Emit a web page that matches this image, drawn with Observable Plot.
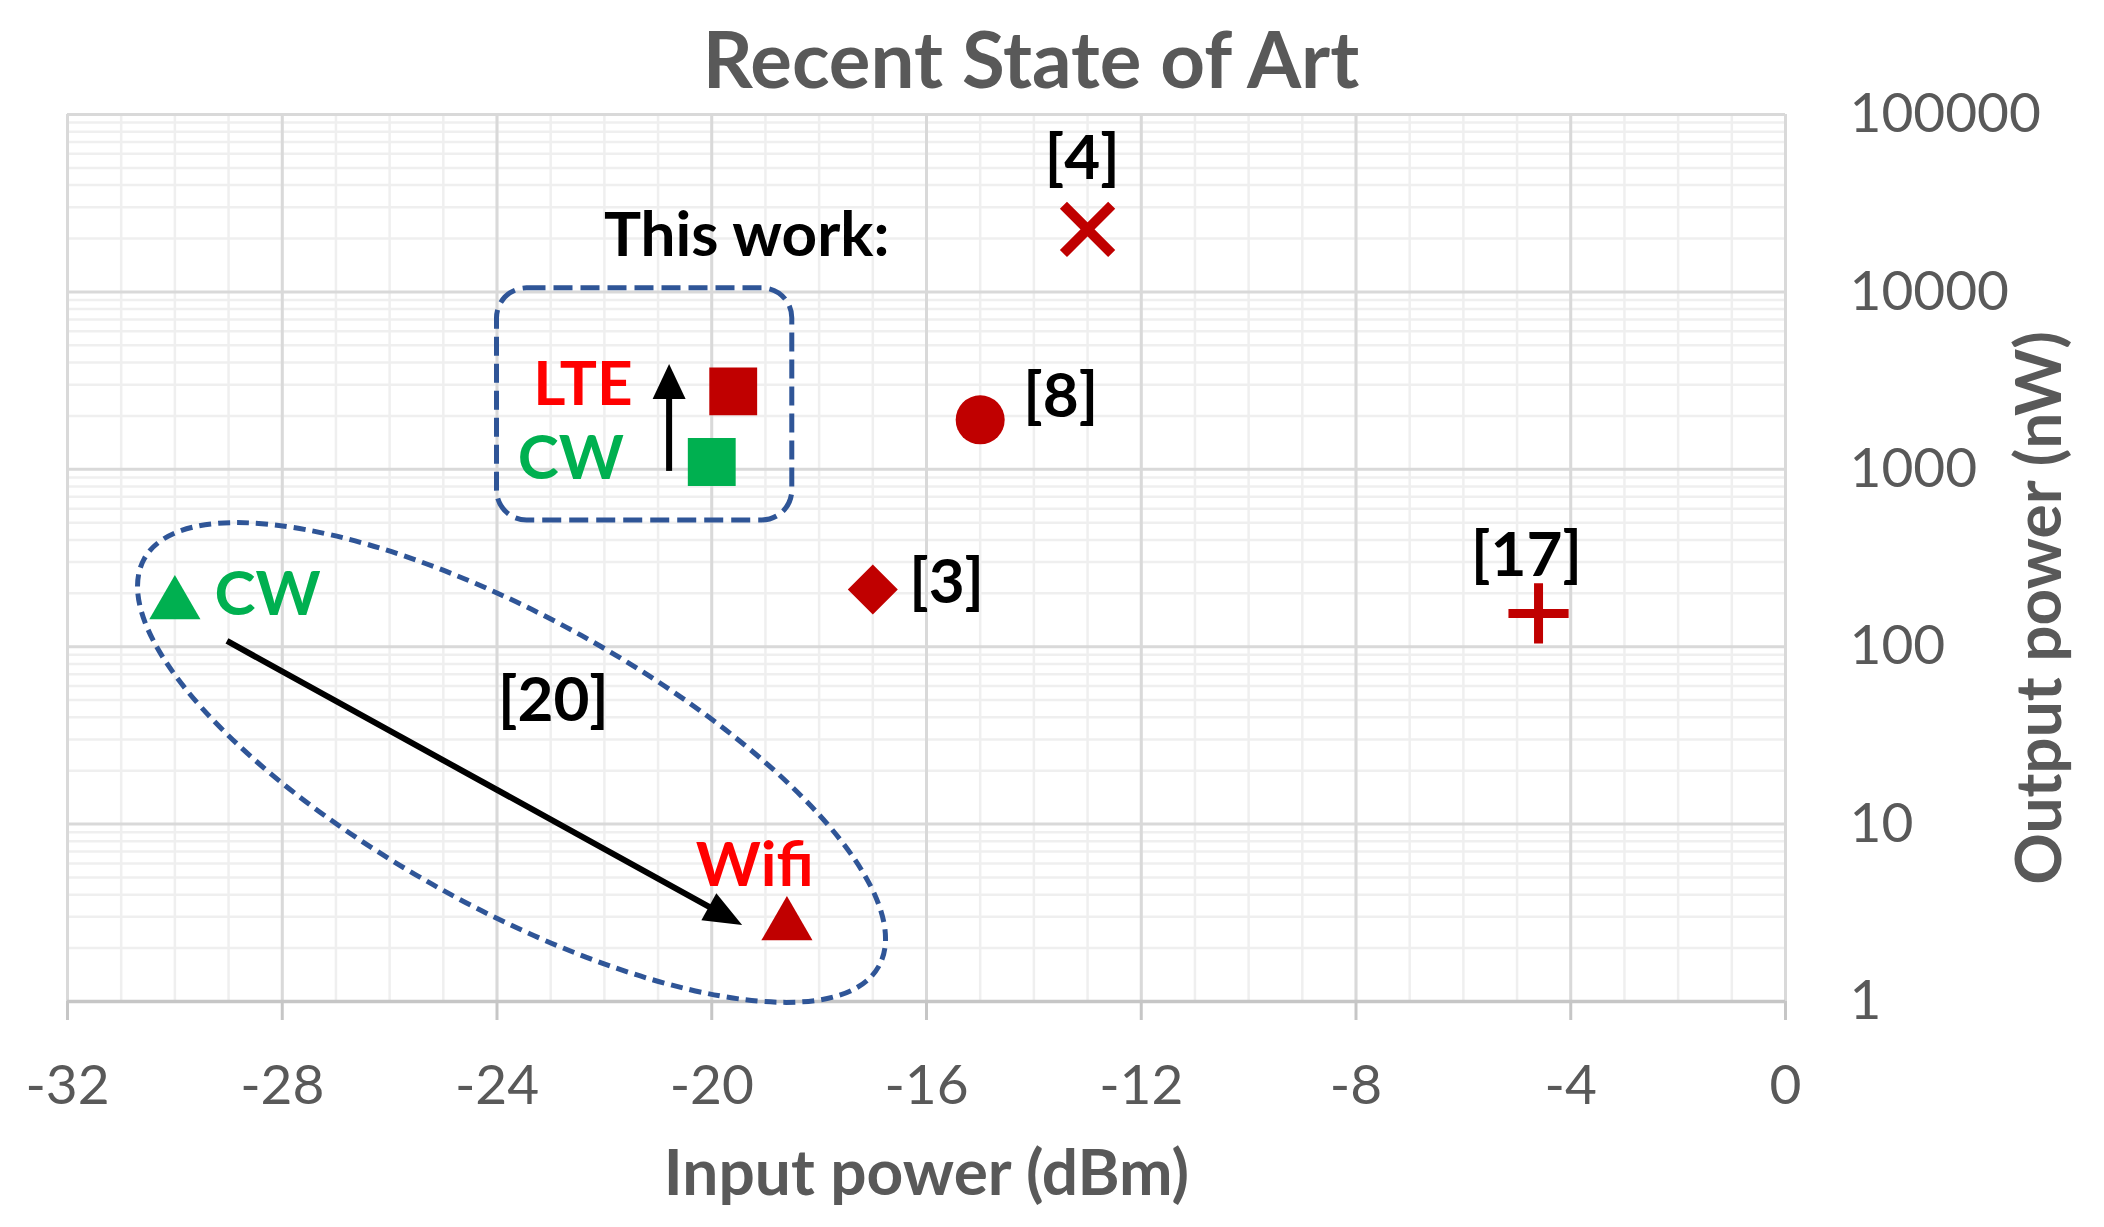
<!DOCTYPE html>
<html>
<head>
<meta charset="utf-8">
<script src="https://cdn.jsdelivr.net/npm/d3@7"></script>
<script src="https://cdn.jsdelivr.net/npm/@observablehq/plot@0.6"></script>
<style>
  body { margin: 0; background: #fff; }
  #title {
    font-family: Lato, sans-serif; font-weight: 700; font-size: 78px; color: #595959;
    height: 110px; box-sizing: border-box; padding-top: 6px; line-height: 104px;
    text-align: center; width: 2062px; white-space: nowrap;
  }
  #chart svg { display: block; }
</style>
</head>
<body>
<div id="title">Recent State of Art</div>
<div id="chart"></div>
<script>
// ---------- data ----------
const xTicks = [-32, -28, -24, -20, -16, -12, -8, -4, 0];
const yTicks = [1, 10, 100, 1000, 10000, 100000];

const refs        = ["[4]", "[8]", "[3]", "[17]", "This work", "This work", "[20]", "[20]"];
const signals     = ["",    "",    "",    "",     "LTE",       "CW",        "CW",   "Wifi"];
const inputPower  = [-13,   -15,   -17,   -4.6,   -19.6,       -20,         -30,    -18.6];   // dBm
const outputPower = [22500, 1900,  210,   154,    2750,        1100,        173,    2.68];    // nW

// annotation texts (anchored in data coordinates)
const labelText = ["[4]", "This work:", "LTE", "CW", "[8]", "[3]", "[17]", "CW", "[20]", "Wifi"];
const labelX    = [-13.1, -19.35, -22.4, -22.625, -13.5, -15.625, -4.825, -28.275, -22.95, -19.2];
const labelY    = [56300, 20500, 2966, 1137, 2535, 229, 325, 196, 49.5, 5.8];
const labelKind = ["ref", "ref", "LTE", "CW", "ref", "ref", "ref", "CW", "ref", "Wifi"];

// arrows: CW -> LTE (this work), CW -> Wifi ([20])
const arrowX1 = [-20.785, -29.02];
const arrowY1 = [973, 107];
const arrowX2 = [-20.785, -19.425];
const arrowY2 = [3900, 2.68];

// "this work" box and "[20]" ellipse
const boxX = [-24, -18.5];
const boxY = [515, 10470];
const ellipseCenter = [-23.72, 22.1];

// ---------- styles ----------
const RED = "#C00000", GREEN = "#00B050", BRIGHT_RED = "#FF0000", BLUE = "#2F5597", GRAY = "#595959";
const markerStyle = {
  "[4]":          {symbol: "times",    r: 22,   fill: "none", stroke: RED, strokeWidth: 10},
  "[8]":          {symbol: "circle",   r: 24.5, fill: RED},
  "[3]":          {symbol: "diamond2", r: 22.5, fill: RED},
  "[17]":         {symbol: "plus",     r: 19.4, fill: "none", stroke: RED, strokeWidth: 9},
  "This workLTE": {symbol: "square",   r: 27,   fill: RED},
  "This workCW":  {symbol: "square",   r: 27,   fill: GREEN},
  "[20]CW":       {symbol: "triangle", r: 19,   fill: GREEN},
  "[20]Wifi":     {symbol: "triangle", r: 19,   fill: RED}
};
const labelColor = {ref: "#000000", LTE: BRIGHT_RED, CW: GREEN, Wifi: BRIGHT_RED};

// ---------- tables ----------
const points = refs.map((ref, i) => ({ref, signal: signals[i], x: inputPower[i], y: outputPower[i]}));
const labels = labelText.map((text, i) => ({text, x: labelX[i], y: labelY[i], kind: labelKind[i]}));
const xMinor = d3.range(-32, 1, 1);
const yMinor = [1, 10, 100, 1000, 10000].flatMap(d => [2, 3, 4, 5, 6, 7, 8, 9].map(k => k * d));

const dotMarks = points.map(p => {
  const s = markerStyle[p.ref + p.signal];
  return Plot.dot([p], {x: "x", y: "y", ...s});
});
const textMarks = Object.keys(labelColor).map(kind =>
  Plot.text(labels.filter(d => d.kind === kind), {
    x: "x", y: "y", text: "text", fill: labelColor[kind], fontSize: 62, fontWeight: 700
  })
);

const plot = Plot.plot({
  width: 2104,
  height: 1117,
  marginLeft: 67,
  marginRight: 319,
  marginTop: 4,
  marginBottom: 226,
  style: {fontFamily: "Lato, sans-serif", background: "#fff", overflow: "visible"},
  x: {domain: [-32, 0]},
  y: {type: "log", domain: [1, 100000]},
  marks: [
    Plot.ruleX(xMinor, {stroke: "#EFEFEF", strokeWidth: 2.5}),
    Plot.ruleY(yMinor, {stroke: "#EFEFEF", strokeWidth: 2.5}),
    Plot.ruleX(xTicks, {stroke: "#D9D9D9", strokeWidth: 3}),
    Plot.ruleY(yTicks, {stroke: "#D9D9D9", strokeWidth: 3}),
    Plot.ruleY([1], {stroke: "#C6C6C6", strokeWidth: 3.5}),
    Plot.axisX({ticks: xTicks, tickFormat: d => String(d), tickSize: 19, tickPadding: 44,
      fontSize: 55, color: GRAY, stroke: "#C6C6C6", strokeWidth: 3, label: null}),
    Plot.axisY({anchor: "right", ticks: yTicks, tickFormat: d => String(d), tickSize: 0, tickPadding: 64,
      fontSize: 55, color: GRAY, label: null}),
    Plot.text(["Input power (dBm)"], {frameAnchor: "bottom", dy: 173, text: d => d,
      textAnchor: "middle", lineAnchor: "middle",
      fontSize: 64, fontWeight: 700, fill: GRAY}),
    Plot.text(["Output power (nW)"], {frameAnchor: "right", dx: 255, dy: 50, rotate: -90, text: d => d,
      textAnchor: "middle", lineAnchor: "middle",
      fontSize: 64, fontWeight: 700, fill: GRAY}),
    Plot.rect([{x1: boxX[0], x2: boxX[1], y1: boxY[0], y2: boxY[1]}], {
      x1: "x1", x2: "x2", y1: "y1", y2: "y2", rx: 30, fill: "none",
      stroke: BLUE, strokeWidth: 5, strokeDasharray: "19 8"}),
    ...textMarks,
    ...dotMarks
  ]
});

document.getElementById("chart").appendChild(plot);

// ---------- shapes placed through the plot's scales ----------
const svg = d3.select(plot);
const sx = plot.scale("x"), sy = plot.scale("y");
const px = v => sx.apply(v), py = v => sy.apply(v);

const ecx = px(ellipseCenter[0]), ecy = py(ellipseCenter[1]);
svg.append("ellipse")
  .attr("cx", ecx).attr("cy", ecy).attr("rx", 420).attr("ry", 145)
  .attr("transform", `rotate(29 ${ecx} ${ecy})`)
  .attr("fill", "none").attr("stroke", BLUE).attr("stroke-width", 5).attr("stroke-dasharray", "12 7");

const heads = [{len: 35, w: 33, sw: 6}, {len: 38, w: 31, sw: 6}];
arrowX1.forEach((_, i) => {
  const X1 = px(arrowX1[i]), Y1 = py(arrowY1[i]), X2 = px(arrowX2[i]), Y2 = py(arrowY2[i]);
  const dx = X2 - X1, dy = Y2 - Y1, L = Math.hypot(dx, dy), ux = dx / L, uy = dy / L;
  const h = heads[i];
  const bx = X2 - ux * h.len, by = Y2 - uy * h.len;
  svg.append("line").attr("x1", X1).attr("y1", Y1).attr("x2", bx + ux * 2).attr("y2", by + uy * 2)
    .attr("stroke", "#000").attr("stroke-width", h.sw);
  svg.append("path")
    .attr("d", `M${X2},${Y2}L${bx - uy * h.w / 2},${by + ux * h.w / 2}L${bx + uy * h.w / 2},${by - ux * h.w / 2}Z`)
    .attr("fill", "#000");
});
</script>
</body>
</html>
